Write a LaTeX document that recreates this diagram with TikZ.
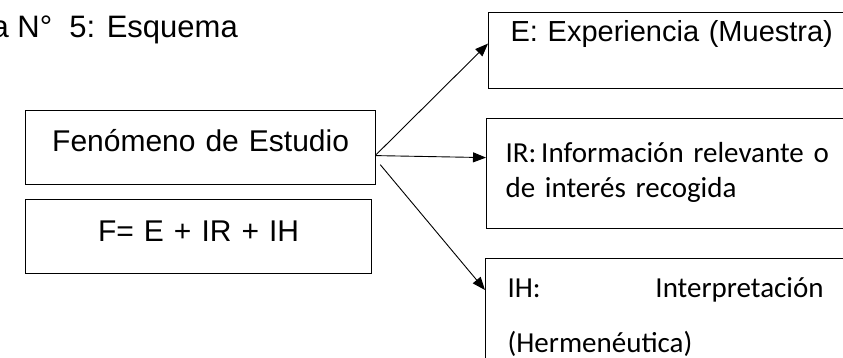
\documentclass[tikz,border=0pt]{standalone}
\usepackage{fontspec}
\setmainfont{Liberation Sans}
\newfontfamily\calibri{Carlito}
\usetikzlibrary{arrows.meta}

\begin{document}
\begin{tikzpicture}[x=1pt,y=-1pt,
		caja/.style={draw, line width=1.2pt, inner ysep=0pt, anchor=north west},
		flecha/.style={-{Triangle[length=13pt,width=10pt]}, line width=0.9pt}]
	
	\useasboundingbox (0,0) rectangle (843,357);
	\clip (0,0) rectangle (843,357);
	
	% titulo (cortado a la izquierda)
	\node[anchor=base east, inner sep=0pt, font=\fontsize{31}{36}\selectfont] (titulo) at (238,37) {a N°\ \ 5: Esquema};
	
	% cajas de la izquierda
	\node[caja, inner xsep=0pt, text width=350pt, align=center, text height=41pt, text depth=33pt, font=\fontsize{30}{36}\selectfont] (fen) at (25,110) {Fenómeno de Estudio};
	\node[caja, inner xsep=0pt, text width=346pt, align=center, text height=42pt, text depth=32pt, font=\fontsize{30}{36}\selectfont] (form) at (25,199) {F= E + IR + IH};
	
	% cajas de la derecha
	\node[caja, inner xsep=22pt, text width=340pt, align=left, text height=29pt, text depth=47pt, font=\fontsize{29}{35}\selectfont] (exp) at (488,12) {E: Experiencia (Muestra)};
	\node[caja, inner xsep=19pt, text width=340pt, align=left, text height=44pt, text depth=66pt, font=\calibri\fontsize{29}{35}\selectfont] (info) at (486,118) {IR:\,Información relevante o\\de interés recogida};
	\node[caja, inner xsep=22pt, text width=316pt, text height=39pt, text depth=120pt, font=\calibri\fontsize{29}{55}\selectfont] (interp) at (485,258) {IH:\hfill Interpretación\\(Hermenéutica)};
	
	% flechas
	\draw[flecha] ([yshift=-7pt]fen.east) -- ([yshift=7pt]exp.west);
	\draw[flecha] ([yshift=-8pt]fen.east) -- ([yshift=16pt]info.west);
	\draw[flecha] ([xshift=4pt,yshift=-17pt]fen.east) -- ([yshift=-32pt]interp.north west);
\end{tikzpicture}
\end{document}
